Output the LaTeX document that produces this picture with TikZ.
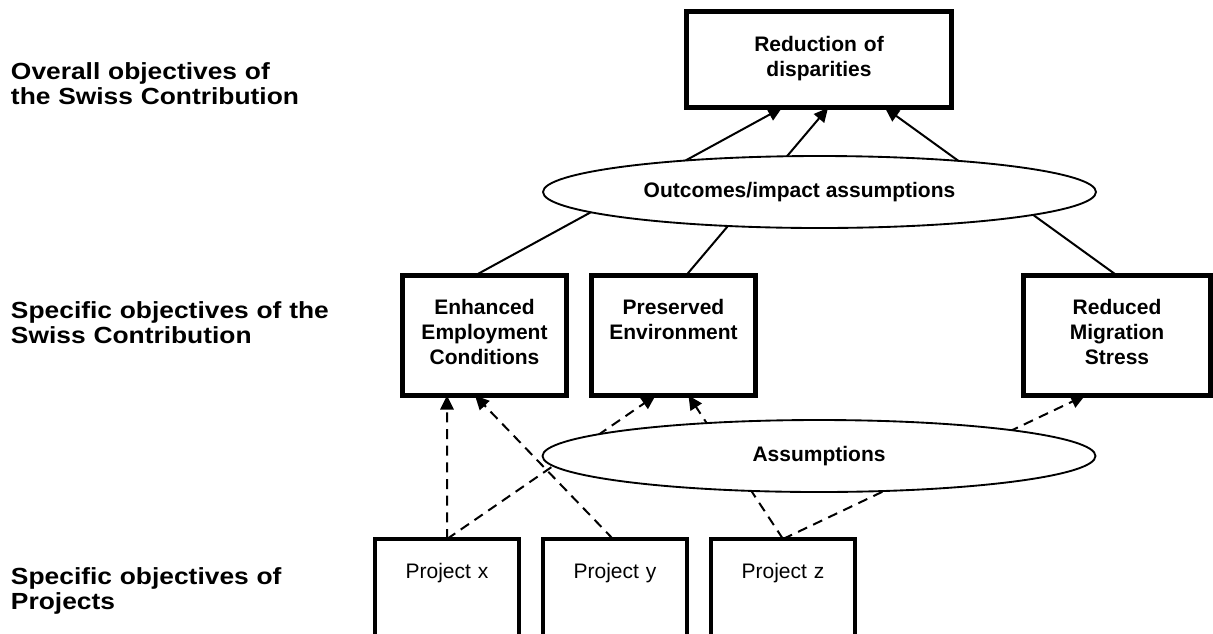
\documentclass[tikz,border=0pt]{standalone}
\usepackage{fontspec}
\setmainfont{Liberation Sans}
\newfontfamily\sidefamily[FakeStretch=1.13]{Liberation Sans}
\usepackage{tikz}
\usetikzlibrary{arrows.meta,positioning,shapes}
\newcommand\boxfont{\fontsize{15.75pt}{18.75pt}\selectfont\bfseries}
\newcommand\projfont{\fontsize{15.75pt}{18.75pt}\selectfont}
\newcommand\sidefont{\sidefamily\fontsize{17.5pt}{18.75pt}\selectfont\bfseries}
\tikzstyle{block} = [draw, fill=white, rectangle, line width=3.6pt, outer sep=0pt,
inner sep=0pt, align=center, text width=115pt, minimum width=123pt,
text height=29.6pt, text depth=60.4pt, font=\boxfont, anchor=north]
\tikzstyle{proj} = [block, text width=100pt, minimum width=108pt, font=\projfont]
\tikzstyle{oval} = [draw, fill=white, ellipse, line width=1.4pt, inner sep=0pt,
minimum width=414.75pt, minimum height=54pt, font=\boxfont]
\tikzstyle{side} = [anchor=base west, inner sep=0pt, align=left, text width=250pt, font=\sidefont]
\tikzstyle{broken} = [dash pattern=on 7.5pt off 5pt]

\begin{document}
\begin{tikzpicture}[x=0.75pt, y=-0.75pt, line width=1.5pt, >={Triangle[length=10.5pt,width=10pt]}]
	\useasboundingbox (0,0) rectangle (1213,633);
	\clip (0,0) rectangle (1213,633);

	% objectives
	\node [block, text depth=42.4pt, text width=185pt, minimum width=198.75pt] (Red) at (819,11.8) {Reduction of\\disparities};
	\node [block] (Empl) at (484.5,275.5) {Enhanced\\Employment\\Conditions};
	\node [block, right=18.75pt of Empl] (Env) {Preserved\\Environment};
	\node [block, text width=130pt, minimum width=140pt] (Migr) at (1117,275.5) {Reduced\\Migration\\Stress};

	% projects
	\node [proj] (Px) at (447,539) {Project x};
	\node [proj, right=18pt of Px] (Py) {Project y};
	\node [proj, right=18pt of Py] (Pz) {Project z};

	\draw [->] ([xshift=-7.1pt]Empl.north) -- ([xshift=-27.75pt]Red.south);
	\draw [->] ([xshift=9.4pt]Env.north) -- ([xshift=6.75pt]Red.south);
	\draw [->] (Migr.north) -- ([xshift=49.5pt]Red.south);

	\draw [->, broken] (Px.north) -- ([xshift=-28.1pt]Empl.south);
	\draw [->, broken] ([xshift=-1.5pt]Py.north) -- ([xshift=-7.1pt]Empl.south);
	\draw [->, broken] (Px.north) -- ([xshift=-13.5pt]Env.south);
	\draw [->, broken] (Pz.north) -- ([xshift=11.25pt]Env.south);
	\draw [->, broken] (Pz.north) -- ([xshift=-24pt]Migr.south);

	% assumptions
	\node [oval] (Outc) at (819.5,192) {Outcomes/impact assumptions\hspace*{30pt}};
	\node [oval] (Assum) at (819,456) {Assumptions};

	% levels
	\node [side] (LvlA) at (10,79) {Overall objectives of\\the Swiss Contribution};
	\node [side] (LvlB) at (10,318) {Specific objectives of the\\Swiss Contribution};
	\node [side] (LvlC) at (10,584) {Specific objectives of\\Projects};
\end{tikzpicture}
\end{document}
